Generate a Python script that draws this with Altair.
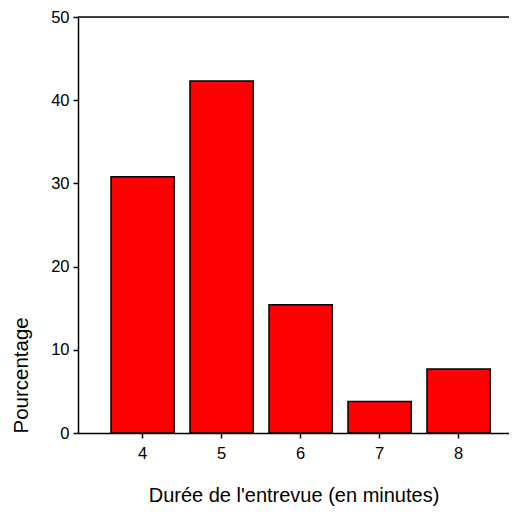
import altair as alt
import pandas as pd

categories = ["4", "5", "6", "7", "8"]
percentages = [30.8, 42.3, 15.4, 3.8, 7.7]
y_ticks = [0, 10, 20, 30, 40, 50]

df = pd.DataFrame({"duree": categories, "pct": percentages})
top_df = pd.DataFrame({"top": [50]})

FONT = "Liberation Sans"

bars = alt.Chart(df).mark_bar(
    color="#FF0000", stroke="black", strokeWidth=1.5
).encode(
    x=alt.X(
        "duree:O",
        sort=categories,
        scale=alt.Scale(paddingInner=0.2, paddingOuter=0.328, align=0.637),
        axis=alt.Axis(
            title="Durée de l'entrevue (en minutes)",
            labelAngle=0,
            labelFontSize=16.5,
            labelPadding=7,
            tickSize=5,
            tickColor="black",
            tickWidth=1.5,
            domainColor="black",
            domainWidth=1.5,
            labelColor="black",
            titleColor="black",
            titleFontSize=20,
            titleFontWeight="normal",
            titlePadding=24,
            labelFont=FONT,
            titleFont=FONT,
        ),
    ),
    y=alt.Y(
        "pct:Q",
        scale=alt.Scale(domain=[0, 50], nice=False),
        axis=alt.Axis(
            title="Pourcentage",
            values=y_ticks,
            grid=False,
            labelFontSize=16.5,
            labelPadding=4,
            tickSize=5,
            tickColor="black",
            tickWidth=1.5,
            domainColor="black",
            domainWidth=1.5,
            labelColor="black",
            titleColor="black",
            titleFontSize=20.5,
            titleFontWeight="normal",
            titleAnchor="start",
            titlePadding=19,
            labelFont=FONT,
            titleFont=FONT,
        ),
    ),
)

top_line = alt.Chart(top_df).mark_rule(color="black", strokeWidth=1.5).encode(
    y=alt.Y("top:Q")
)

chart = alt.layer(bars, top_line).properties(
    width=431,
    height=416,
    autosize=alt.AutoSizeParams(type="none"),
    padding={"left": 70, "top": 9, "right": 0, "bottom": 75},
).configure_view(stroke=None).configure(background="white")

chart.save("out.html", embed_options={"renderer": "svg", "actions": False})
